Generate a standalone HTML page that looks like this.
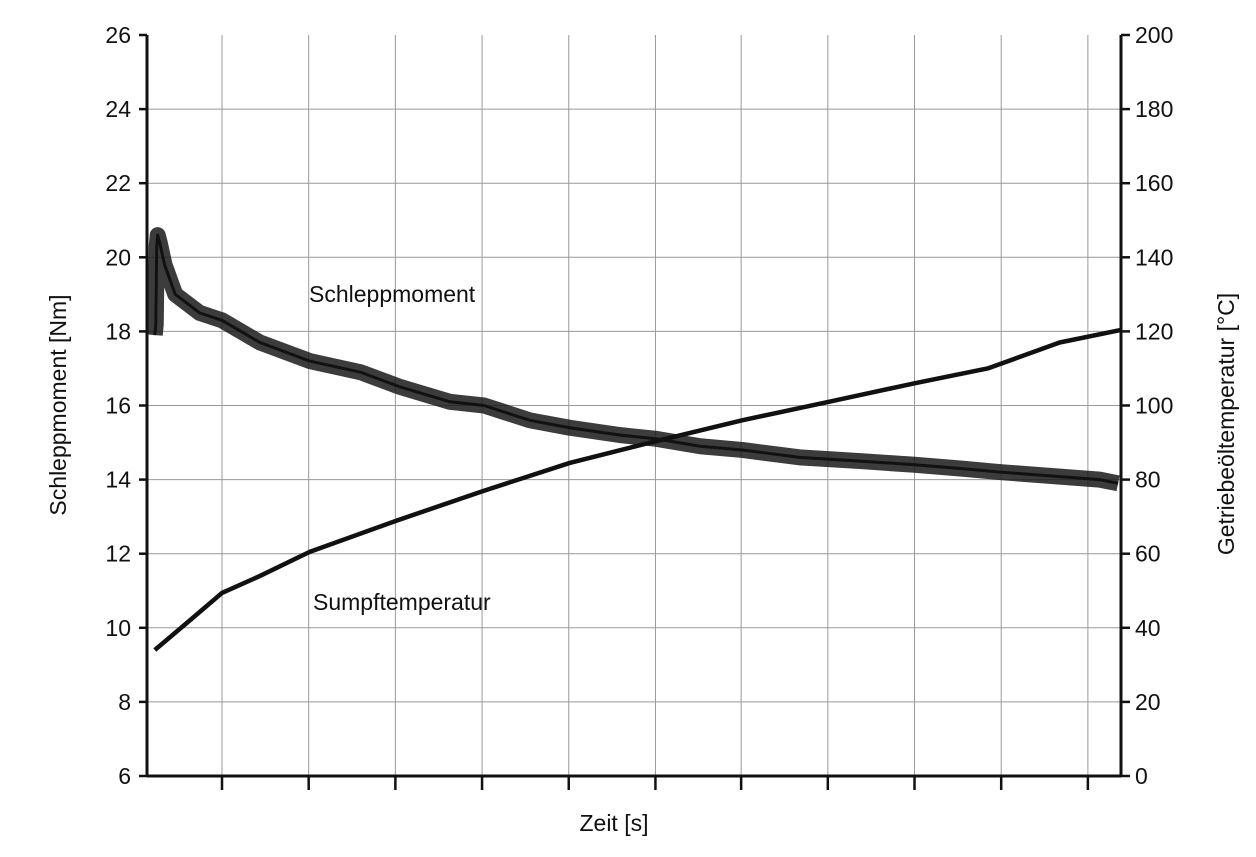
<!DOCTYPE html>
<html><head><meta charset="utf-8"><style>
body{margin:0;background:#fff;}
svg text{font-family:"Liberation Sans",Arial,sans-serif;fill:#111;}
</style></head><body>
<svg id="chart" width="1256" height="852" viewBox="0 0 1256 852" xmlns="http://www.w3.org/2000/svg">
<g id="grid"></g>
<g id="series"></g>
<g id="axes"></g>
<text x="309" y="302" font-size="23">Schleppmoment</text>
<text x="313" y="610" font-size="23">Sumpftemperatur</text>
<text x="614" y="831" font-size="23" text-anchor="middle">Zeit [s]</text>
<text transform="translate(66,405) rotate(-90)" font-size="23" text-anchor="middle">Schleppmoment [Nm]</text>
<text transform="translate(1234,424) rotate(-90)" font-size="23" text-anchor="middle">Getriebeöltemperatur [°C]</text>
</svg>
<script>
const torqueTime=[8,9,10,11,13,18,29,54,77,116,167,219,260,311,346,393,434,486,523,568,611,670,732,788,835,877,927,978,997];
const torqueValues=[17.9,18.2,20.3,20.6,20.4,19.8,19.0,18.5,18.3,17.7,17.2,16.9,16.5,16.1,16.0,15.6,15.4,15.2,15.1,14.9,14.8,14.6,14.5,14.4,14.3,14.2,14.1,14.0,13.9];
const tempTime=[8,44,77,116,167,257,346,434,523,611,700,788,863,877,937,1000];
const tempValues=[34,42,49.4,54,60.5,69,77,84.5,90.4,96,101,106,110,111.3,117,120.4];
const leftTicks=[6,8,10,12,14,16,18,20,22,24,26];
const rightTicks=[0,20,40,60,80,100,120,140,160,180,200];
const xTicks=[77,166,255,344,433,522,610,699,788,877,966];
const NS="http://www.w3.org/2000/svg";
const L=147,R=1121,T=35,B=776;
const xs=t=>L+t*(R-L)/1000;
const yl=v=>B-(v-6)*(B-T)/20;
const yr=v=>B-v*(B-T)/200;
function mk(p,tag,a){const e=document.createElementNS(NS,tag);for(const k in a)e.setAttribute(k,a[k]);p.appendChild(e);return e;}
const grid=document.getElementById('grid'),axes=document.getElementById('axes'),ser=document.getElementById('series');
xTicks.forEach(t=>{const x=xs(t);
const g=mk(grid,'line',{x1:x,x2:x,y1:T,y2:B,stroke:'#999','stroke-width':1});

const k=mk(axes,'line',{x1:x,x2:x,y1:B,y2:B+14,stroke:'#111','stroke-width':2.5});
});
leftTicks.forEach(v=>{const y=yl(v);
if(v>6&&v<26){const g=mk(grid,'line',{x1:L,x2:R,y1:y,y2:y,stroke:'#999','stroke-width':1});
}
const k=mk(axes,'line',{x1:L-8,x2:L,y1:y,y2:y,stroke:'#111','stroke-width':2.5});

const tx=mk(axes,'text',{x:L-16,y:y+8,'font-size':23,'text-anchor':'end'});tx.textContent=v;
});
rightTicks.forEach(v=>{const y=yr(v);
const k=mk(axes,'line',{x1:R,x2:R+9,y1:y,y2:y,stroke:'#111','stroke-width':2.5});

const tx=mk(axes,'text',{x:R+14,y:y+8,'font-size':23});tx.textContent=v;
});
[[L,T,L,B],[R,T,R,B],[L,B,R,B]].forEach(a=>{const e=mk(axes,'line',{x1:a[0],y1:a[1],x2:a[2],y2:a[3],stroke:'#111','stroke-width':3});
});
const tp=mk(ser,'path',{d:torqueTime.map((t,i)=>(i?'L':'M')+xs(t)+','+yl(torqueValues[i])).join(''),fill:'none',stroke:'#1a1a1a','stroke-width':16,'stroke-opacity':0.85,'stroke-linejoin':'round'});

const tm=mk(ser,'path',{d:torqueTime.map((t,i)=>(i?'L':'M')+xs(t)+','+yl(torqueValues[i])).join(''),fill:'none',stroke:'#111','stroke-width':3,'stroke-linejoin':'round'});

const hp=mk(ser,'path',{d:tempTime.map((t,i)=>(i?'L':'M')+xs(t)+','+yr(tempValues[i])).join(''),fill:'none',stroke:'#111','stroke-width':4.5,'stroke-linejoin':'round'});

</script>
</body></html>
